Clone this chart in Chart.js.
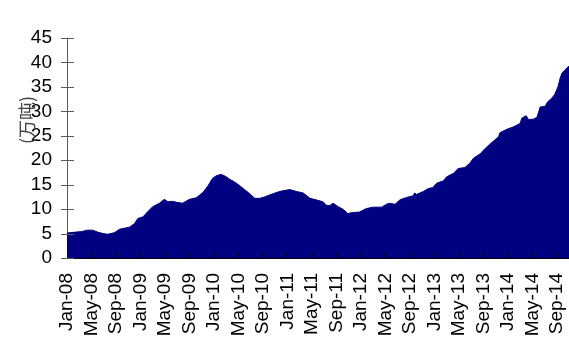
<!DOCTYPE html>
<html>
<head>
<meta charset="utf-8">
<script src="https://cdn.jsdelivr.net/npm/chart.js@4.4.1/dist/chart.umd.min.js"></script>
<style>
  html, body { margin: 0; padding: 0; background: #fff; }
  #wrap { position: relative; width: 569px; height: 345px; }
</style>
</head>
<body>
<div id="wrap"><canvas id="chart" width="569" height="345"></canvas></div>
<script>
// Weekly inventory readings (万吨), sampled dates and values
const dates = [
  '2008-01-01','2008-01-22','2008-02-15','2008-03-13','2008-04-10','2008-05-07','2008-06-01','2008-06-28',
  '2008-07-19','2008-08-07','2008-08-25','2008-09-19','2008-10-13','2008-11-07','2008-12-01','2008-12-19',
  '2009-01-13','2009-02-07','2009-03-01','2009-04-04','2009-04-28','2009-05-16','2009-06-07','2009-06-28',
  '2009-07-28','2009-09-01','2009-10-04','2009-11-07','2009-12-01','2009-12-25','2010-01-16','2010-02-07',
  '2010-02-26','2010-03-19','2010-04-10','2010-04-28','2010-06-01','2010-06-25','2010-07-22','2010-08-16',
  '2010-09-10','2010-10-04','2010-11-22','2010-12-16','2011-01-13','2011-02-15','2011-03-19','2011-04-22',
  '2011-05-22','2011-06-25','2011-07-13','2011-07-28','2011-08-16','2011-09-10','2011-10-04','2011-10-28',
  '2011-11-22','2011-12-25','2012-01-28','2012-03-01','2012-04-13','2012-05-07','2012-05-22','2012-06-19',
  '2012-07-13','2012-08-16','2012-09-16','2012-09-25','2012-10-04','2012-11-07','2012-12-01','2012-12-25',
  '2013-01-13','2013-02-15','2013-03-01','2013-04-04','2013-04-28','2013-06-01','2013-06-25','2013-07-13',
  '2013-08-16','2013-09-10','2013-10-13','2013-11-16','2013-11-22','2013-12-25','2014-01-28','2014-03-01',
  '2014-03-10','2014-04-01','2014-04-13','2014-05-07','2014-05-25','2014-06-10','2014-07-04','2014-07-16',
  '2014-08-07','2014-08-22','2014-09-07','2014-09-19','2014-09-28','2014-10-10','2014-11-01'
];
const stocks = [
  5.1, 5.2, 5.3, 5.4, 5.7, 5.7, 5.3, 5.0,
  4.85, 5.0, 5.2, 5.9, 6.1, 6.3, 7.0, 8.1,
  8.4, 9.5, 10.5, 11.2, 12.0, 11.5, 11.6, 11.4,
  11.2, 12.0, 12.3, 13.4, 14.7, 16.3, 16.9, 17.1,
  16.7, 16.1, 15.6, 15.1, 14.0, 13.2, 12.2, 12.2,
  12.5, 12.9, 13.6, 13.8, 14.0, 13.6, 13.3, 12.2,
  11.9, 11.5, 10.8, 10.7, 11.2, 10.5, 9.95, 9.1,
  9.3, 9.4, 10.1, 10.4, 10.4, 11.0, 11.2, 11.0,
  11.9, 12.4, 12.7, 13.3, 13.0, 13.6, 14.2, 14.4,
  15.3, 15.8, 16.6, 17.3, 18.3, 18.5, 19.4, 20.4,
  21.3, 22.4, 23.6, 24.8, 25.6, 26.3, 26.8, 27.5,
  28.6, 29.1, 28.3, 28.4, 28.8, 30.9, 31.0, 31.9,
  32.7, 33.5, 35.0, 37.0, 37.9, 38.4, 39.3
];
const xTickLabels = [
  'Jan-08','May-08','Sep-08','Jan-09','May-09','Sep-09','Jan-10','May-10','Sep-10','Jan-11','May-11',
  'Sep-11','Jan-12','May-12','Sep-12','Jan-13','May-13','Sep-13','Jan-14','May-14','Sep-14'
];
const yTicks = [0, 5, 10, 15, 20, 25, 30, 35, 40, 45];
const unitLabel = '(万吨)';

// months elapsed since Jan 2008, fractional by day of month
function monthIndex(s) {
  const [y, m, d] = s.split('-').map(Number);
  const days = new Date(y, m, 0).getDate();
  return (y - 2008) * 12 + (m - 1) + (d - 1) / days;
}
const points = dates.map((d, i) => ({ x: monthIndex(d), y: stocks[i] }));
const X_END = monthIndex('2014-11-01');

const navy = 'rgb(0,0,128)';

const axisMarks = {
  id: 'axisMarks',
  afterDatasetsDraw(chart) {
    const { ctx, chartArea, scales: { x, y } } = chart;
    ctx.save();
    ctx.lineWidth = 1;
    // x ticks point up into the plot
    ctx.strokeStyle = '#000';
    ctx.beginPath();
    x.ticks.forEach(t => {
      const px = Math.round(x.getPixelForValue(t.value)) + 0.5;
      if (px <= chartArea.left + 1) return;
      ctx.moveTo(px, chartArea.bottom);
      ctx.lineTo(px, chartArea.bottom - 6);
    });
    ctx.stroke();
    // y ticks cross the axis
    ctx.strokeStyle = '#5a5a5a';
    ctx.beginPath();
    y.ticks.forEach(t => {
      const py = Math.round(y.getPixelForValue(t.value)) + 0.5;
      ctx.moveTo(chartArea.left - 6, py);
      ctx.lineTo(chartArea.left + 7, py);
    });
    ctx.stroke();
    ctx.restore();
  },
  afterDraw(chart) {
    const { ctx, chartArea } = chart;
    ctx.save();
    ctx.translate(chartArea.left - 40, chartArea.top + 82);
    ctx.rotate(-Math.PI / 2);
    ctx.font = '18px "Noto Sans CJK SC", sans-serif';
    ctx.fillStyle = '#444';
    ctx.textAlign = 'center';
    ctx.textBaseline = 'middle';
    ctx.fillText(unitLabel, 0, 0);
    ctx.restore();
  }
};

new Chart(document.getElementById('chart'), {
  type: 'line',
  data: {
    datasets: [{
      data: points,
      backgroundColor: navy,
      borderColor: navy,
      borderWidth: 1,
      fill: 'origin',
      pointRadius: 0,
      tension: 0
    }]
  },
  options: {
    responsive: false,
    animation: false,
    layout: { padding: { top: 38, right: 0, left: 0, bottom: 0 } },
    plugins: { legend: { display: false }, tooltip: { enabled: false } },
    scales: {
      x: {
        type: 'linear',
        min: 0,
        max: X_END,
        grid: { display: false },
        border: { display: true, color: '#000', width: 1 },
        afterBuildTicks(scale) {
          scale.ticks = xTickLabels.map((_, i) => ({ value: i * 4 }));
        },
        afterFit(scale) {
          scale.height = 87;
          scale.paddingLeft = 0;
          scale.paddingRight = 0;
        },
        ticks: {
          autoSkip: false,
          minRotation: 90,
          maxRotation: 90,
          padding: 7,
          color: '#000',
          font: { family: '"Liberation Sans", Arial, sans-serif', size: 19 },
          callback: (v, i) => xTickLabels[i]
        }
      },
      y: {
        min: 0,
        max: 45,
        grid: { display: false },
        border: { display: true, color: '#5a5a5a', width: 1 },
        afterBuildTicks(scale) {
          scale.ticks = yTicks.map(v => ({ value: v }));
        },
        afterFit(scale) {
          scale.width = 67;
          scale.paddingTop = 0;
          scale.paddingBottom = 0;
        },
        ticks: {
          autoSkip: false,
          padding: 7,
          color: '#000',
          font: { family: '"Liberation Sans", Arial, sans-serif', size: 19 },
          callback: v => String(v)
        }
      }
    }
  },
  plugins: [axisMarks]
});
</script>
</body>
</html>
